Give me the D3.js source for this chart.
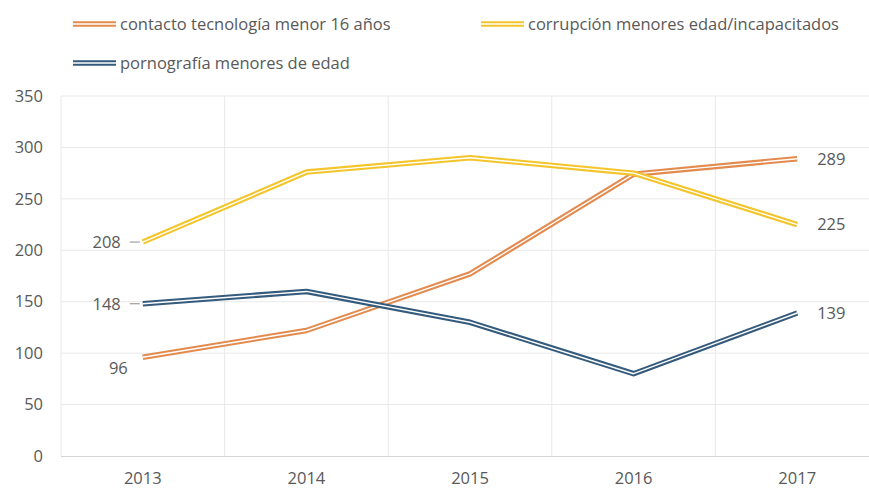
<!DOCTYPE html>
<html>
<head>
<meta charset="utf-8">
<script src="https://cdn.jsdelivr.net/npm/d3@7"></script>
<style>
  body { margin: 0; background: #fff; }
  text { font-family: "Open Sans", sans-serif; fill: #595959; }
</style>
</head>
<body>
<div id="wrapper"></div>
<script>
const years = ["2013", "2014", "2015", "2016", "2017"];
const yTicks = [0, 50, 100, 150, 200, 250, 300, 350];

const contacto = [96, 122, 177, 274, 289];
const corrupcion = [208, 276, 290, 275, 225];
const pornografia = [148, 160, 130, 80, 139];

const seriesNames = [
    "contacto tecnología menor 16 años",
    "corrupción menores edad/incapacitados",
    "pornografía menores de edad"
];
const seriesColors = ["#e38a4e", "#f3c52a", "#345a7c"];

function buildPlot() {
    const width = 869, height = 489;
    const dimension = {
        left: 61, right: 879, top: 96, bottom: 456
    };
    const fontSize = "16.5px";

    const svg = d3.select("#wrapper").append("svg")
        .attr("width", width)
        .attr("height", height);

    const series = [
        { name: seriesNames[0], color: seriesColors[0], values: contacto },
        { name: seriesNames[1], color: seriesColors[1], values: corrupcion },
        { name: seriesNames[2], color: seriesColors[2], values: pornografia }
    ];

    const xScaler = d3.scaleBand()
        .domain(years)
        .range([dimension.left, dimension.right])
        .padding(0);
    const yScaler = d3.scaleLinear()
        .domain([0, 350])
        .range([dimension.bottom, dimension.top]);
    const xCenter = (y) => xScaler(y) + xScaler.bandwidth() / 2;

    // horizontal grid
    svg.append("g")
        .selectAll("line")
        .data(yTicks.filter(d => d > 0))
        .enter()
        .append("line")
        .attr("x1", dimension.left)
        .attr("x2", dimension.right)
        .attr("y1", d => yScaler(d))
        .attr("y2", d => yScaler(d))
        .attr("stroke", "#e9e9e9")
        .attr("stroke-width", 1);

    // vertical grid at category boundaries
    svg.append("g")
        .selectAll("line")
        .data(years)
        .enter()
        .append("line")
        .attr("x1", d => xScaler(d))
        .attr("x2", d => xScaler(d))
        .attr("y1", dimension.top)
        .attr("y2", dimension.bottom)
        .attr("stroke", "#e9e9e9")
        .attr("stroke-width", 1);

    // bottom axis line
    svg.append("line")
        .attr("x1", dimension.left)
        .attr("x2", dimension.right)
        .attr("y1", dimension.bottom + 0.5)
        .attr("y2", dimension.bottom + 0.5)
        .attr("stroke", "#d4d4d4")
        .attr("stroke-width", 1.2);

    const yAxis = svg.append("g")
        .attr("transform", "translate(43,0)")
        .call(d3.axisLeft(yScaler).tickValues(yTicks).tickSize(0).tickPadding(0));
    yAxis.select(".domain").remove();
    yAxis.selectAll("text")
        .style("font-family", "Open Sans, sans-serif")
        .style("font-size", fontSize)
        .attr("fill", "#595959");

    const xAxis = svg.append("g")
        .attr("transform", `translate(0,${dimension.bottom})`)
        .call(d3.axisBottom(xScaler).tickSize(0).tickPadding(16));
    xAxis.select(".domain").remove();
    xAxis.selectAll("text")
        .style("font-family", "Open Sans, sans-serif")
        .style("font-size", fontSize)
        .attr("fill", "#595959");

    // lines (double compound style: coloured stroke with white core)
    const lineGen = d3.line()
        .x((d, i) => xCenter(years[i]))
        .y(d => yScaler(d));

    series.forEach(s => {
        svg.append("path")
            .datum(s.values)
            .attr("fill", "none")
            .attr("stroke", s.color)
            .attr("stroke-width", 5.5)
            .attr("stroke-linejoin", "round")
            .attr("d", lineGen);
        svg.append("path")
            .datum(s.values)
            .attr("fill", "none")
            .attr("stroke", "#fff")
            .attr("stroke-width", 1.4)
            .attr("stroke-linejoin", "round")
            .attr("d", lineGen);
    });

    // data labels
    const x0 = xCenter(years[0]);
    const xN = xCenter(years[years.length - 1]);

    // 2013 labels
    [[corrupcion, true, 0], [pornografia, true, 0], [contacto, false, 11]].forEach(([vals, leader, dy]) => {
        const y = yScaler(vals[0]);
        if (leader) {
            svg.append("line")
                .attr("x1", x0 - 13).attr("x2", x0 - 3)
                .attr("y1", y).attr("y2", y)
                .attr("stroke", "#8c8c8c").attr("stroke-width", 1);
        }
        svg.append("text")
            .attr("x", leader ? x0 - 22 : x0 - 15)
            .attr("y", y + dy)
            .attr("dy", "0.35em")
            .attr("text-anchor", "end")
            .style("font-size", fontSize)
            .text(vals[0]);
    });

    // 2017 labels
    [contacto, corrupcion, pornografia].forEach(vals => {
        const v = vals[vals.length - 1];
        svg.append("text")
            .attr("x", xN + 20)
            .attr("y", yScaler(v))
            .attr("dy", "0.35em")
            .style("font-size", fontSize)
            .text(v);
    });

    // legend
    const legendPos = [[73, 24], [481, 24], [73, 63]];
    series.forEach((s, i) => {
        const [lx, ly] = legendPos[i];
        const g = svg.append("g").attr("transform", `translate(${lx},${ly})`);
        g.append("line")
            .attr("x1", 0).attr("x2", 43)
            .attr("y1", 0).attr("y2", 0)
            .attr("stroke", s.color).attr("stroke-width", 5.5);
        g.append("line")
            .attr("x1", 0).attr("x2", 43)
            .attr("y1", 0).attr("y2", 0)
            .attr("stroke", "#fff").attr("stroke-width", 1.4);
        g.append("text")
            .attr("x", 47)
            .attr("y", 0)
            .attr("dy", "0.35em")
            .style("font-size", fontSize)
            .text(s.name);
    });
}

buildPlot();
</script>
</body>
</html>
